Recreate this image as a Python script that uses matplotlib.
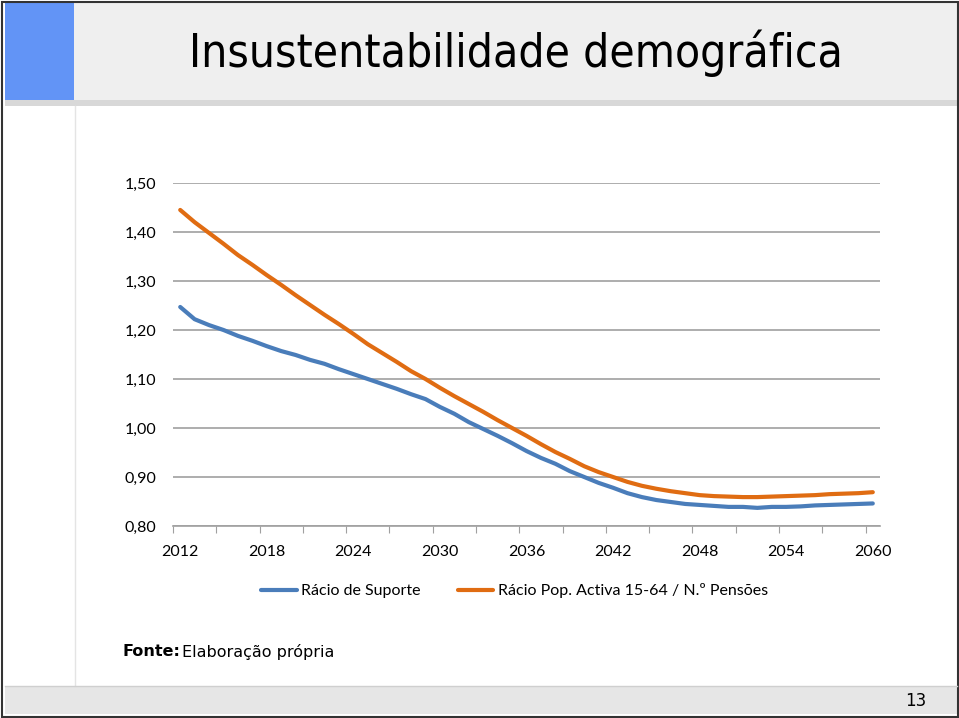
import numpy as np
import matplotlib.pyplot as plt
from matplotlib.patches import Rectangle

anos = list(range(2012, 2061))
suporte = [1.247, 1.222, 1.210, 1.200, 1.188, 1.178, 1.167, 1.157, 1.149, 1.139,
           1.131, 1.120, 1.110, 1.100, 1.090, 1.080, 1.069, 1.059, 1.043, 1.029,
           1.012, 0.998, 0.984, 0.969, 0.953, 0.939, 0.927, 0.912, 0.900, 0.888,
           0.878, 0.867, 0.859, 0.853, 0.849, 0.845, 0.843, 0.841, 0.839, 0.839,
           0.837, 0.839, 0.839, 0.840, 0.842, 0.843, 0.844, 0.845, 0.846]
pop_pensoes = [1.445, 1.420, 1.398, 1.376, 1.353, 1.333, 1.312, 1.292, 1.271, 1.251,
               1.231, 1.212, 1.192, 1.171, 1.153, 1.135, 1.116, 1.100, 1.082, 1.065,
               1.049, 1.033, 1.016, 1.000, 0.984, 0.967, 0.951, 0.937, 0.922, 0.910,
               0.900, 0.890, 0.882, 0.876, 0.871, 0.867, 0.863, 0.861, 0.860, 0.859,
               0.859, 0.860, 0.861, 0.862, 0.863, 0.865, 0.866, 0.867, 0.869]
yticks = [0.80, 0.90, 1.00, 1.10, 1.20, 1.30, 1.40, 1.50]
serie1 = 'Rácio de Suporte'
serie2 = 'Rácio Pop. Activa 15-64 / N.º Pensões'

W, H = 959, 718
fig = plt.figure(figsize=(W / 100, H / 100), dpi=100)
fig.patch.set_facecolor('white')

def box(x0, y0, x1, y1):
    # pixel coords (top-left origin) -> figure fraction
    return [x0 / W, 1 - y1 / H, (x1 - x0) / W, (y1 - y0) / H]

# slide background
bg = fig.add_axes([0, 0, 1, 1])
bg.set_xlim(0, W)
bg.set_ylim(H, 0)
bg.axis('off')
bg.add_patch(Rectangle((5, 2), 952, 98, color='#efefef', lw=0))
bg.add_patch(Rectangle((5, 2), 69, 98, color='#6294f6', lw=0))
bg.add_patch(Rectangle((5, 100), 952, 6, color='#d8d8d8', lw=0))
bg.plot([75, 75], [106, 686], color='#e4e4e4', lw=1)
bg.add_patch(Rectangle((5, 686), 952, 28, color='#e6e6e6', lw=0))
bg.plot([5, 957], [686, 686], color='#cfcfcf', lw=1)
bg.add_patch(Rectangle((1.5, 1.5), W - 3, H - 3, fill=False, ec='#333333', lw=1.5))
bg.text(516, 53, 'Insustentabilidade demográfica', fontsize=33, ha='center',
        va='center', family='DejaVu Sans', stretch='condensed')
bg.text(926, 701, '13', fontsize=12, ha='right', va='center')
bg.text(123, 652, 'Fonte:', fontsize=11.5, weight='bold', va='center')
bg.text(182, 652, 'Elaboração própria', fontsize=11.5, va='center')

# chart
ax = fig.add_axes(box(173, 183, 880, 526))
x = np.arange(len(anos))
ax.plot(x, suporte, color='#4a7dba', lw=3, solid_capstyle='round', label=serie1)
ax.plot(x, pop_pensoes, color='#e06c12', lw=3, solid_capstyle='round', label=serie2)
ax.set_xlim(-0.5, len(anos) - 0.5)
ax.set_ylim(0.80, 1.50)
ax.set_yticks(yticks)
ax.set_yticklabels([f'{v:.2f}'.replace('.', ',') for v in yticks], family='Lato', fontsize=11.5)
ax.yaxis.grid(True, color='#a0a0a0', lw=1.2)
ax.tick_params(axis='y', length=0, pad=12)
ax.set_xticks(np.arange(-0.5, len(anos), 3))
ax.set_xticklabels([])
ax.set_xticks(x[::6], minor=True)
ax.set_xticklabels([str(a) for a in anos[::6]], minor=True, family='Lato', fontsize=11.5)
ax.tick_params(axis='x', which='major', length=5, color='#a0a0a0', direction='out')
ax.tick_params(axis='x', which='minor', length=0, pad=14)
for s in ['top', 'right', 'left']:
    ax.spines[s].set_visible(False)
ax.spines['bottom'].set_color('#a0a0a0')
ax.spines['bottom'].set_linewidth(1.2)
ax.set_axisbelow(True)

ax.legend(loc='upper center', bbox_to_anchor=(0.483, -0.125), ncol=2, frameon=False,
          prop={'family': 'Lato', 'size': 11.5}, handlelength=2.25, columnspacing=2.3,
          handletextpad=0.3)

plt.savefig('out.png', dpi=100)
